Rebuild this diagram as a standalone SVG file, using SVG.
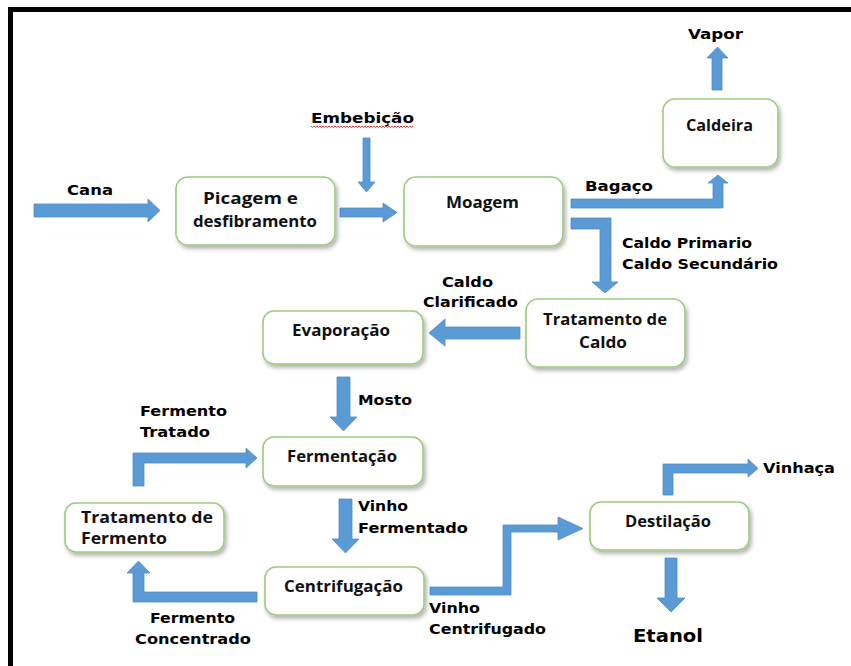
<svg xmlns="http://www.w3.org/2000/svg" width="851" height="666" viewBox="0 0 851 666">
<style>
.box{fill:#fff;stroke:#9CCB7E;stroke-width:1.6;filter:url(#sh)}
.arr{fill:#5B9BD5;stroke:#4F8CC7;stroke-width:0.8}
.lbl{font-family:"DejaVu Sans","Liberation Sans",sans-serif;font-weight:bold;font-size:14.5px;fill:#000}
.bx{font-family:"Open Sans","Liberation Sans",sans-serif;font-weight:700;font-size:16px;fill:#111}
</style>
<defs>
<filter id="sh" x="-10%" y="-10%" width="125%" height="135%">
<feDropShadow dx="2" dy="3" stdDeviation="2" flood-color="#000" flood-opacity="0.3"/>
</filter>
</defs>
<rect width="851" height="666" fill="#fff"/>
<g id="frame">
<rect x="8" y="7" width="843" height="5" fill="#000"/>
<rect x="8" y="7" width="5" height="659" fill="#000"/>
</g>
<g id="connectors">
<polygon class="arr" points="34,204 148,204 148,199 160,210.5 148,222 148,217 34,217"/>
<polygon class="arr" points="340,208 383,208 383,203 397,212.5 383,222 383,217 340,217"/>
<polygon class="arr" points="363,138 370,138 370,182 375,182 366.5,192 358,182 363,182"/>
<polygon class="arr" points="571,199 713,199 713,183 708,183 718,175 728,183 723,183 723,208 571,208"/>
<polygon class="arr" points="571,218 611,218 611,282 618,282 605,293 592,282 600,282 600,229 571,229"/>
<polygon class="arr" points="712,90 712,58 707,58 717.5,47 728,58 722,58 722,90"/>
<polygon class="arr" points="520,327 445,327 445,319 429,333 445,346 445,339 520,339"/>
<polygon class="arr" points="337,377 350,377 350,417 357,417 343.5,431 330,417 337,417"/>
<polygon class="arr" points="133,486 133,453 246,453 246,448 257,458 246,468 246,463 144,463 144,486"/>
<polygon class="arr" points="339,499 352,499 352,539 359,539 345.5,553 332,539 339,539"/>
<polygon class="arr" points="257,592 144,592 144,573 150,573 138.5,561 127,573 133,573 133,602 257,602"/>
<polygon class="arr" points="430,587 503,587 503,525 558,525 558,517 583,528.5 558,540 558,532 511,532 511,595 430,595"/>
<polygon class="arr" points="663,495 663,464 748,464 748,459 758,468.5 748,477 748,473 673,473 673,495"/>
<polygon class="arr" points="665,558 677,558 677,598 685,598 671,612 657,598 665,598"/>
</g>
<g id="labels">
<text class="lbl" x="688" y="39" textLength="55" lengthAdjust="spacingAndGlyphs">Vapor</text>
<text class="lbl" x="311" y="123" textLength="103" lengthAdjust="spacingAndGlyphs">Embebição</text>
<path d="M311,126 l1.5,1.5 l1.5,-1.5 l1.5,1.5 l1.5,-1.5 l1.5,1.5 l1.5,-1.5 l1.5,1.5 l1.5,-1.5 l1.5,1.5 l1.5,-1.5 l1.5,1.5 l1.5,-1.5 l1.5,1.5 l1.5,-1.5 l1.5,1.5 l1.5,-1.5 l1.5,1.5 l1.5,-1.5 l1.5,1.5 l1.5,-1.5 l1.5,1.5 l1.5,-1.5 l1.5,1.5 l1.5,-1.5 l1.5,1.5 l1.5,-1.5 l1.5,1.5 l1.5,-1.5 l1.5,1.5 l1.5,-1.5 l1.5,1.5 l1.5,-1.5 l1.5,1.5 l1.5,-1.5 l1.5,1.5 l1.5,-1.5 l1.5,1.5 l1.5,-1.5 l1.5,1.5 l1.5,-1.5 l1.5,1.5 l1.5,-1.5 l1.5,1.5 l1.5,-1.5 l1.5,1.5 l1.5,-1.5 l1.5,1.5 l1.5,-1.5 l1.5,1.5 l1.5,-1.5 l1.5,1.5 l1.5,-1.5 l1.5,1.5 l1.5,-1.5 l1.5,1.5 l1.5,-1.5 l1.5,1.5 l1.5,-1.5 l1.5,1.5 l1.5,-1.5 l1.5,1.5 l1.5,-1.5 l1.5,1.5 l1.5,-1.5 l1.5,1.5 l1.5,-1.5 l1.5,1.5 l1.5,-1.5" fill="none" stroke="#E02020" stroke-width="0.9"/>
<text class="lbl" x="67" y="195" textLength="46" lengthAdjust="spacingAndGlyphs">Cana</text>
<text class="lbl" x="585" y="191" textLength="68" lengthAdjust="spacingAndGlyphs">Bagaço</text>
<text class="lbl" x="622" y="248" textLength="130" lengthAdjust="spacingAndGlyphs">Caldo Primario</text>
<text class="lbl" x="622" y="269" textLength="156" lengthAdjust="spacingAndGlyphs">Caldo Secundário</text>
<text class="lbl" x="442" y="287" textLength="51" lengthAdjust="spacingAndGlyphs">Caldo</text>
<text class="lbl" x="423" y="307" textLength="95" lengthAdjust="spacingAndGlyphs">Clarificado</text>
<text class="lbl" x="358" y="405" textLength="54" lengthAdjust="spacingAndGlyphs">Mosto</text>
<text class="lbl" x="140" y="416" textLength="87" lengthAdjust="spacingAndGlyphs">Fermento</text>
<text class="lbl" x="140" y="437" textLength="70" lengthAdjust="spacingAndGlyphs">Tratado</text>
<text class="lbl" x="358" y="511" textLength="50" lengthAdjust="spacingAndGlyphs">Vinho</text>
<text class="lbl" x="358" y="533" textLength="110" lengthAdjust="spacingAndGlyphs">Fermentado</text>
<text class="lbl" x="150" y="623" textLength="85" lengthAdjust="spacingAndGlyphs">Fermento</text>
<text class="lbl" x="135" y="644" textLength="116" lengthAdjust="spacingAndGlyphs">Concentrado</text>
<text class="lbl" x="429" y="613" textLength="51" lengthAdjust="spacingAndGlyphs">Vinho</text>
<text class="lbl" x="429" y="634" textLength="117" lengthAdjust="spacingAndGlyphs">Centrifugado</text>
<text class="lbl" x="763" y="473" textLength="72" lengthAdjust="spacingAndGlyphs">Vinhaça</text>
<text class="lbl" x="633" y="642" style="font-size:18px" textLength="70" lengthAdjust="spacingAndGlyphs">Etanol</text>
</g>
<g id="caldeira">
<rect class="box" x="663" y="99" width="115" height="68" rx="12"/>
<text class="bx" x="686" y="131" textLength="67" lengthAdjust="spacingAndGlyphs">Caldeira</text>
</g>
<g id="picagem">
<rect class="box" x="176" y="177" width="159" height="68" rx="12"/>
<text class="bx" x="203" y="204" textLength="95" lengthAdjust="spacingAndGlyphs">Picagem e</text>
<text class="bx" x="193" y="227" textLength="124" lengthAdjust="spacingAndGlyphs">desfibramento</text>
</g>
<g id="moagem">
<rect class="box" x="404" y="177" width="159" height="69" rx="12"/>
<text class="bx" x="446" y="208" textLength="73" lengthAdjust="spacingAndGlyphs">Moagem</text>
</g>
<g id="tratamento-caldo">
<rect class="box" x="526" y="299" width="159" height="68" rx="12"/>
<text class="bx" x="543" y="325" textLength="124" lengthAdjust="spacingAndGlyphs">Tratamento de</text>
<text class="bx" x="579" y="348" textLength="48" lengthAdjust="spacingAndGlyphs">Caldo</text>
</g>
<g id="evaporacao">
<rect class="box" x="263" y="311" width="160" height="53" rx="11"/>
<text class="bx" x="292" y="336" textLength="98" lengthAdjust="spacingAndGlyphs">Evaporação</text>
</g>
<g id="fermentacao">
<rect class="box" x="263" y="437" width="160" height="49" rx="11"/>
<text class="bx" x="287" y="462" textLength="110" lengthAdjust="spacingAndGlyphs">Fermentação</text>
</g>
<g id="tratamento-fermento">
<rect class="box" x="65" y="503" width="159" height="49" rx="11"/>
<text class="bx" x="81" y="523" textLength="132" lengthAdjust="spacingAndGlyphs">Tratamento de</text>
<text class="bx" x="81" y="544" textLength="86" lengthAdjust="spacingAndGlyphs">Fermento</text>
</g>
<g id="centrifugacao">
<rect class="box" x="265" y="567" width="159" height="48" rx="11"/>
<text class="bx" x="284" y="592" textLength="119" lengthAdjust="spacingAndGlyphs">Centrifugação</text>
</g>
<g id="destilacao">
<rect class="box" x="590" y="502" width="159" height="48" rx="11"/>
<text class="bx" x="625" y="527" textLength="86" lengthAdjust="spacingAndGlyphs">Destilação</text>
</g>
</svg>
